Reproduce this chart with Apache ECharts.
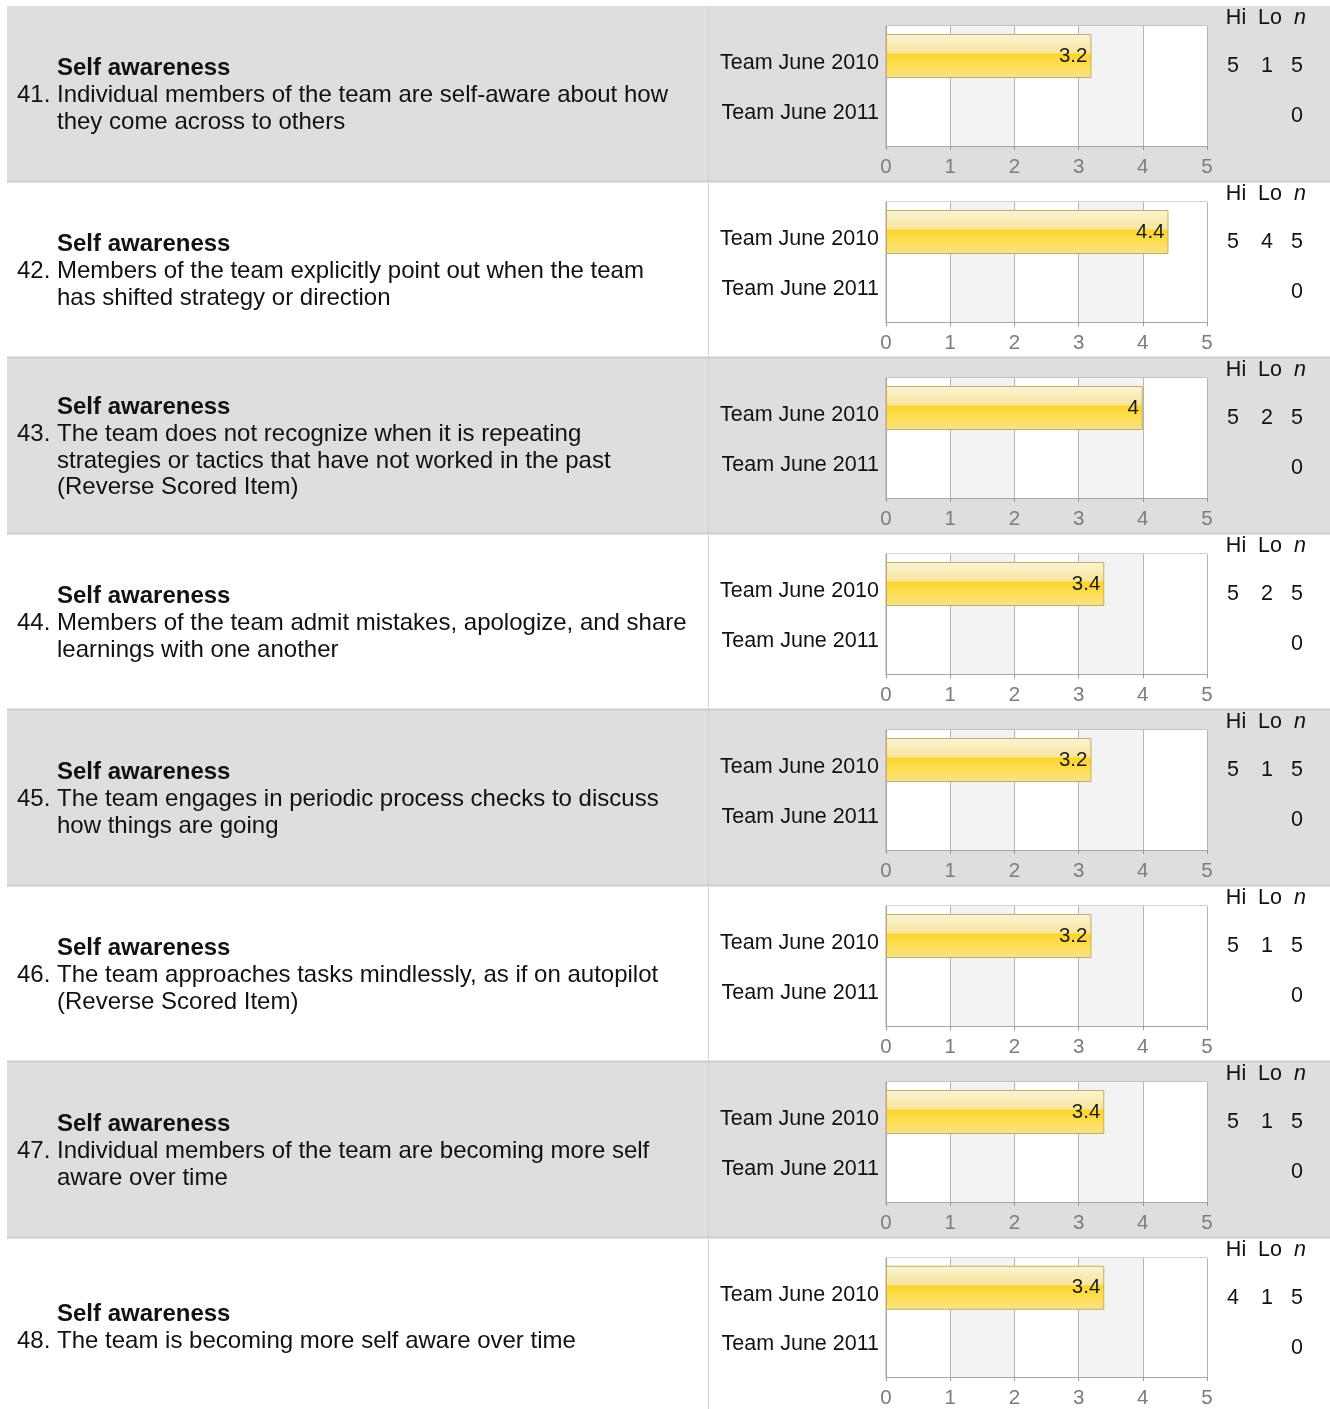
<!DOCTYPE html>
<html>
<head>
<meta charset="utf-8">
<script src="https://cdn.jsdelivr.net/npm/echarts@6/dist/echarts.min.js"></script>
<style>
  html, body { margin: 0; padding: 0; background: #fff; }
  #main { width: 1330px; height: 1409px; }
</style>
</head>
<body>
<div id="main"></div>
<script>
const categories = ["Team June 2010", "Team June 2011"];
const itemNumbers = [41, 42, 43, 44, 45, 46, 47, 48];
const headings = ["Self awareness", "Self awareness", "Self awareness", "Self awareness",
  "Self awareness", "Self awareness", "Self awareness", "Self awareness"];
const questions = [
  ["Individual members of the team are self-aware about how", "they come across to others"],
  ["Members of the team explicitly point out when the team", "has shifted strategy or direction"],
  ["The team does not recognize when it is repeating", "strategies or tactics that have not worked in the past", "(Reverse Scored Item)"],
  ["Members of the team admit mistakes, apologize, and share", "learnings with one another"],
  ["The team engages in periodic process checks to discuss", "how things are going"],
  ["The team approaches tasks mindlessly, as if on autopilot", "(Reverse Scored Item)"],
  ["Individual members of the team are becoming more self", "aware over time"],
  ["The team is becoming more self aware over time"]
];
const scores2010 = [3.2, 4.4, 4, 3.4, 3.2, 3.2, 3.4, 3.4];
const scores2011 = [null, null, null, null, null, null, null, null];
const hi2010 = [5, 5, 5, 5, 5, 5, 5, 4];
const lo2010 = [1, 4, 2, 2, 1, 1, 1, 1];
const n2010 = [5, 5, 5, 5, 5, 5, 5, 5];
const n2011 = [0, 0, 0, 0, 0, 0, 0, 0];
const xTicks = [0, 1, 2, 3, 4, 5];

const FONT = "'Liberation Sans', Arial, sans-serif";
const ROW_TOP = 6;
const ROW_H = 176;

const chart = echarts.init(document.getElementById("main"));

const grids = [], xAxes = [], yAxes = [], series = [], graphics = [];

itemNumbers.forEach(function (num, i) {
  const top = ROW_TOP + ROW_H * i;
  const shaded = i % 2 === 0;

  // row background
  graphics.push({
    type: "rect", z: -10, silent: true,
    shape: { x: 7, y: top, width: 1323, height: ROW_H },
    style: { fill: shaded ? "#dfdedc" : "#ffffff" }
  });
  if (i > 0) {
    graphics.push({
      type: "line", z: -9, silent: true,
      shape: { x1: 7, y1: top - 0.5, x2: 1330, y2: top - 0.5 },
      style: { stroke: "#cdcdcd", lineWidth: 2 }
    });
  }
  graphics.push({
    type: "line", z: -9, silent: true,
    shape: { x1: 708.5, y1: top, x2: 708.5, y2: top + ROW_H },
    style: { stroke: "#d2d2d2", lineWidth: 1 }
  });

  // left text block
  const lines = [headings[i]].concat(questions[i]);
  const center = top + 89.5;
  lines.forEach(function (txt, k) {
    const y = center + (k - (lines.length - 1) / 2) * 26.8;
    graphics.push({
      type: "text", z: 5, silent: true, x: 57, y: y,
      style: {
        text: txt, fill: "#111", font: (k === 0 ? "bold " : "") + "24px " + FONT,
        textAlign: "left", textVerticalAlign: "middle"
      }
    });
    if (k === 1) {
      graphics.push({
        type: "text", z: 5, silent: true, x: 17, y: y,
        style: {
          text: num + ".", fill: "#111", font: "24px " + FONT,
          textAlign: "left", textVerticalAlign: "middle"
        }
      });
    }
  });

  // Hi / Lo / n table
  const cols = [1236, 1270, 1300];
  ["Hi", "Lo", "n"].forEach(function (h, c) {
    graphics.push({
      type: "text", z: 5, silent: true, x: cols[c], y: top + 12,
      style: {
        text: h, fill: "#111", font: (c === 2 ? "italic " : "") + "21.5px " + FONT,
        textAlign: "center", textVerticalAlign: "middle"
      }
    });
  });
  [hi2010[i], lo2010[i], n2010[i]].forEach(function (v, c) {
    graphics.push({
      type: "text", z: 5, silent: true, x: cols[c] - 3, y: top + 60,
      style: {
        text: String(v), fill: "#111", font: "21.5px " + FONT,
        textAlign: "center", textVerticalAlign: "middle"
      }
    });
  });
  graphics.push({
    type: "text", z: 5, silent: true, x: cols[2] - 3, y: top + 110,
    style: {
      text: String(n2011[i]), fill: "#111", font: "21.5px " + FONT,
      textAlign: "center", textVerticalAlign: "middle"
    }
  });

  grids.push({
    left: 886, width: 321, top: top + 20, height: 120,
    show: true, backgroundColor: "#ffffff", borderColor: "#a6a6a6", borderWidth: 1
  });
  xAxes.push({
    gridIndex: i, type: "value", min: 0, max: 5, interval: 1,
    axisLine: { show: true, lineStyle: { color: "#a6a6a6" } },
    axisTick: { show: true, length: 4, lineStyle: { color: "#999" } },
    axisLabel: {
      color: "#7c7c7c", fontSize: 20.5, fontFamily: FONT, margin: 11,
      formatter: function (v) { return xTicks.indexOf(v) >= 0 ? String(v) : ""; }
    },
    splitLine: { show: true, lineStyle: { color: "#b4b4b4" } },
    splitArea: { show: true, areaStyle: { color: ["#ffffff", "#f3f3f3"] } }
  });
  yAxes.push({
    gridIndex: i, type: "category", inverse: true, data: categories,
    axisLine: { show: true, lineStyle: { color: "#a6a6a6" } },
    axisTick: { show: false },
    axisLabel: {
      color: "#111", fontSize: 21.5, fontFamily: FONT, margin: 7,
      formatter: function (v, idx) { return idx === 0 ? "{a|" + v + "}" : "{b|" + v + "}"; },
      rich: {
        a: { fontSize: 21.5, fontFamily: FONT, color: "#111", padding: [14, 0, 0, 0] },
        b: { fontSize: 21.5, fontFamily: FONT, color: "#111", padding: [0, 0, 6, 0] }
      }
    }
  });
  series.push({
    type: "bar", xAxisIndex: i, yAxisIndex: i,
    data: [scores2010[i], scores2011[i]],
    barWidth: 44,
    itemStyle: {
      color: new echarts.graphic.LinearGradient(0, 0, 0, 1, [
        { offset: 0, color: "#faf4d6" },
        { offset: 0.43, color: "#f6e59c" },
        { offset: 0.46, color: "#fbd52c" },
        { offset: 0.75, color: "#fddf58" },
        { offset: 1, color: "#f8e38a" }
      ]),
      borderColor: "#c6ae5e", borderWidth: 1
    },
    label: {
      show: true, position: "insideRight", distance: 4,
      color: "#1a1a1a", fontSize: 20.5, fontFamily: FONT,
      formatter: function (p) { return p.value == null ? "" : String(p.value); }
    },
    animation: false
  });
});

chart.setOption({
  animation: false,
  grid: grids,
  xAxis: xAxes,
  yAxis: yAxes,
  series: series,
  graphic: { elements: graphics }
});
</script>
</body>
</html>
